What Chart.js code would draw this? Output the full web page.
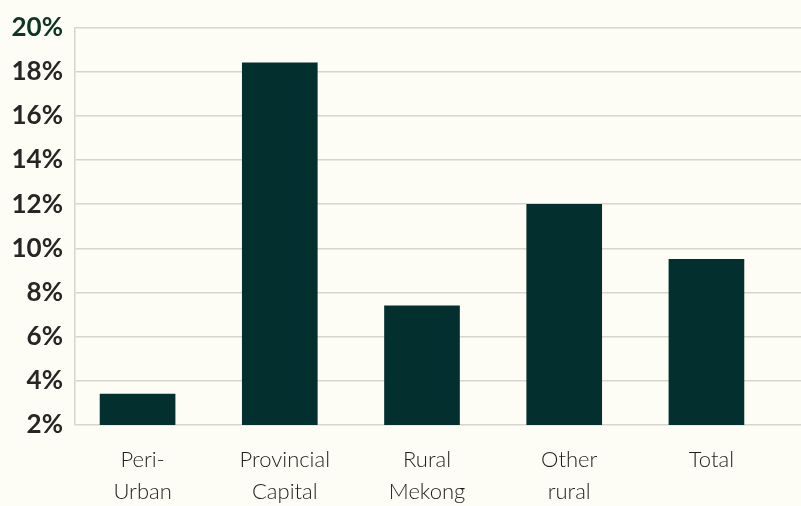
<!DOCTYPE html>
<html>
<head>
<meta charset="utf-8">
<script src="https://cdn.jsdelivr.net/npm/chart.js@4/dist/chart.umd.min.js"></script>
<style>
  html, body { margin: 0; padding: 0; background: #fdfdf5; }
  #wrap { width: 801px; height: 506px; position: relative; }
</style>
</head>
<body>
<div id="wrap"><canvas id="barChart"></canvas></div>
<script>
// categories (multi-line labels) and values, in %
const categories = [
  ["Peri-", "Urban"],
  ["Provincial", "Capital"],
  ["Rural", "Mekong"],
  ["Other", "rural"],
  ["Total"],
];
const values = [3.4, 18.4, 7.4, 12.0, 9.5];
const yMin = 2;
const yMax = 20;
const yStep = 2;

const barColor = "#03302e";
const gridColor = "#d6d6cc";

const ctx = document.getElementById("barChart").getContext("2d");
new Chart(ctx, {
  type: "bar",
  data: {
    datasets: [
      {
        label: "Share",
        data: values.map((v, i) => ({ x: i, y: v })),
        backgroundColor: barColor,
        borderWidth: 0,
        barThickness: 75,
      },
    ],
  },
  options: {
    responsive: true,
    maintainAspectRatio: false,
    animation: false,
    layout: { padding: { top: 22, right: 0, bottom: 0, left: 0 } },
    plugins: {
      legend: { display: false },
      tooltip: { enabled: false },
    },
    scales: {
      x: {
        type: "linear",
        offset: false,
        min: -0.44,
        max: 4.665,
        grid: { display: false, offset: false },
        border: { display: false },
        // one tick per category, at its bar
        afterBuildTicks: (scale) => {
          scale.ticks = categories.map((_, i) => ({ value: i }));
        },
        afterFit: (scale) => {
          scale.height = 81;
        },
        ticks: {
          autoSkip: false,
          maxRotation: 0,
          padding: 11,
          labelOffset: 5,
          color: "#1e1e1e",
          font: { family: "Lato", size: 22, weight: 300, lineHeight: 1.45 },
          callback: (value) => categories[value] || "",
        },
      },
      y: {
        min: yMin,
        max: yMax,
        grid: { color: gridColor, lineWidth: 1.5, drawTicks: false },
        border: { display: true, color: gridColor, width: 1.5 },
        afterFit: (scale) => {
          scale.width = 75;
        },
        ticks: {
          stepSize: yStep,
          padding: 12,
          color: (c) => (c.tick && c.tick.value === yMax ? "#0c3526" : "#262626"),
          font: { family: "Lato", size: 26, weight: 700 },
          callback: (v) => v + "%",
        },
      },
    },
  },
});
</script>
</body>
</html>
